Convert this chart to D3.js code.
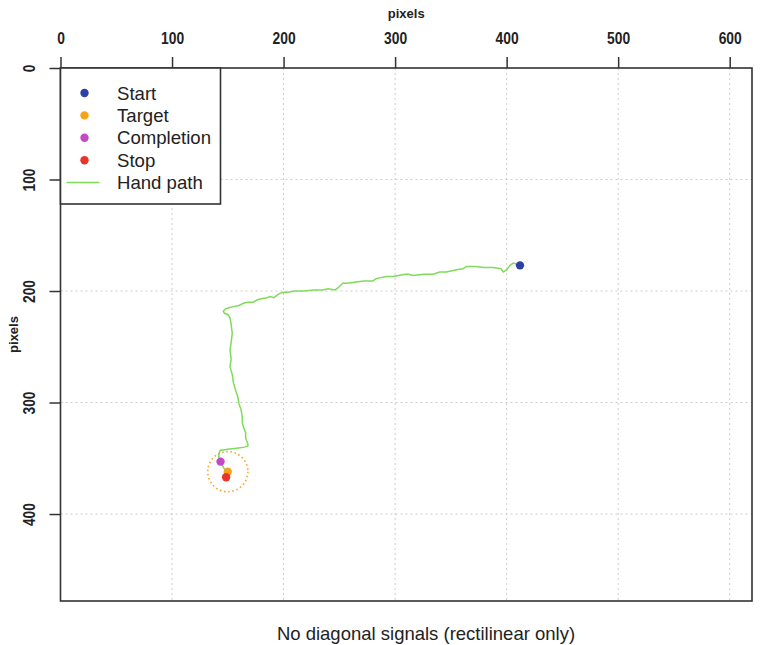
<!DOCTYPE html>
<html>
<head>
<meta charset="utf-8">
<script src="https://cdn.jsdelivr.net/npm/d3@7"></script>
<style>
  html, body { margin: 0; padding: 0; background: #fff; }
  svg { display: block; }
</style>
</head>
<body>
<svg id="chart" width="765" height="645"></svg>
<script>
// Screen extent (pixels) and axis ticks
const xDomain = [0, 620];
const yDomain = [0, 478];
const xTicks = [0, 100, 200, 300, 400, 500, 600];
const yTicks = [0, 100, 200, 300, 400];

// Hand trajectory in screen pixels (x, y), from start towards target
const pathX = [412, 406, 403, 400, 397, 395, 388, 380, 372, 364, 361, 355, 346, 340, 334, 326, 316, 312, 309, 303, 298, 292, 287, 283, 280, 272, 265, 257, 253, 251, 249, 246, 240, 235, 227, 218, 210, 204, 200, 197, 194, 191, 188, 185, 180, 176, 173, 168, 164, 160, 155, 151, 148, 146, 147, 150, 152, 153, 154, 153, 152, 153, 152, 154, 155, 157, 159, 160, 162, 163, 163, 164, 166, 166, 168, 168, 165, 158, 150, 143, 142, 142, 143, 146, 149];
const pathY = [177, 175, 177, 181, 183, 180, 179, 179, 178, 178, 180, 181, 183, 183, 185, 185, 186, 185, 185, 186, 187, 187, 188, 189, 191, 191, 192, 193, 193, 195, 197, 199, 198, 199, 199, 200, 200, 201, 201, 202, 204, 206, 205, 206, 207, 208, 210, 210, 211, 213, 214, 215, 216, 218, 220, 221, 224, 230, 238, 246, 253, 261, 268, 275, 282, 289, 295, 301, 307, 313, 318, 322, 327, 332, 337, 339, 340, 341, 342, 343, 347, 350, 353, 358, 363];

// Event markers
const eventNames = ["Start", "Target", "Completion", "Stop"];
const eventX = [412, 150, 143.5, 148.5];
const eventY = [177, 362, 353, 367];
const eventColors = ["#2b41a6", "#f7a21c", "#c44ac4", "#e8352a"];
const pathColor = "#7fdb5a";
const targetRadius = 18; // target zone radius, screen pixels

const svg = d3.select("#chart");
const margin = { left: 60.5, top: 68, right: 13, bottom: 44 };
const W = 765, H = 645;

const x = d3.scaleLinear().domain(xDomain).range([margin.left, W - margin.right]);
const y = d3.scaleLinear().domain(yDomain).range([margin.top, H - margin.bottom]);

const sansFont = "'Liberation Sans', Arial, sans-serif";
const ink = "#222";

// Dotted grid
const grid = svg.append("g").attr("stroke", "#cccccc").attr("stroke-width", 1)
  .attr("stroke-dasharray", "2,3");
xTicks.filter(d => d > 0).forEach(d => {
  grid.append("line").attr("x1", x(d)).attr("x2", x(d))
    .attr("y1", y(yDomain[0])).attr("y2", y(yDomain[1]));
});
yTicks.filter(d => d > 0).forEach(d => {
  grid.append("line").attr("x1", x(xDomain[0])).attr("x2", x(xDomain[1]))
    .attr("y1", y(d)).attr("y2", y(d));
});

// Top axis: condensed labels above outward ticks
const topAxis = svg.append("g")
  .attr("transform", `translate(0,${margin.top})`)
  .call(d3.axisTop(x).tickValues(xTicks).tickSize(11).tickPadding(0));
topAxis.select(".domain").remove();
topAxis.selectAll(".tick line").attr("stroke", "#333").attr("stroke-width", 1.5);
topAxis.selectAll(".tick text")
  .attr("font-family", sansFont).attr("font-size", 16.5).attr("font-weight", "bold")
  .attr("fill", ink).attr("y", null).attr("dy", null)
  .attr("transform", "translate(0,-24) scale(0.84,1)");

// Left axis with vertical condensed labels
const leftAxis = svg.append("g")
  .attr("transform", `translate(${margin.left},0)`)
  .call(d3.axisLeft(y).tickValues(yTicks).tickSize(11).tickPadding(0));
leftAxis.select(".domain").remove();
leftAxis.selectAll(".tick line").attr("stroke", "#333").attr("stroke-width", 1.5);
leftAxis.selectAll(".tick text")
  .attr("font-family", sansFont).attr("font-size", 16.5).attr("font-weight", "bold")
  .attr("fill", ink)
  .attr("x", 0).attr("y", 0).attr("dy", "0.35em")
  .attr("text-anchor", "middle")
  .attr("transform", "translate(-31.5,0) rotate(-90) scale(0.84,1)");

// Axis titles
svg.append("text").attr("x", (x(xDomain[0]) + x(xDomain[1])) / 2).attr("y", 18)
  .attr("text-anchor", "middle").attr("font-family", sansFont)
  .attr("font-size", 13).attr("font-weight", "bold").attr("fill", ink).text("pixels");
svg.append("text")
  .attr("transform", `translate(18,${(y(yDomain[0]) + y(yDomain[1])) / 2}) rotate(-90)`)
  .attr("text-anchor", "middle").attr("font-family", sansFont)
  .attr("font-size", 13).attr("font-weight", "bold").attr("fill", ink).text("pixels");

// Target zone
svg.append("circle")
  .attr("cx", x(eventX[1])).attr("cy", y(eventY[1]))
  .attr("r", x(targetRadius) - x(0))
  .attr("fill", "none").attr("stroke", "#f7a93a").attr("stroke-width", 1.7)
  .attr("stroke-dasharray", "1.6,2.6");

// Hand path
const line = d3.line().x(i => x(pathX[i])).y(i => y(pathY[i]));
svg.append("path").datum(d3.range(pathX.length))
  .attr("d", line).attr("fill", "none")
  .attr("stroke", pathColor).attr("stroke-width", 1.5);

// Event markers
svg.append("g").selectAll("circle").data(eventNames).join("circle")
  .attr("cx", (d, i) => x(eventX[i])).attr("cy", (d, i) => y(eventY[i]))
  .attr("r", 4.2).attr("fill", (d, i) => eventColors[i]);

// Plot frame
svg.append("rect")
  .attr("x", x(xDomain[0])).attr("y", y(yDomain[0]))
  .attr("width", x(xDomain[1]) - x(xDomain[0]))
  .attr("height", y(yDomain[1]) - y(yDomain[0]))
  .attr("fill", "none").attr("stroke", "#333").attr("stroke-width", 1.6);

// Legend
const legend = svg.append("g").attr("transform", `translate(${margin.left},${margin.top})`);
legend.append("rect").attr("width", 160).attr("height", 136)
  .attr("fill", "#fff").attr("stroke", "#333").attr("stroke-width", 1.6);
const items = eventNames.concat(["Hand path"]);
const rowY = i => 25 + i * 22.4;
items.forEach((name, i) => {
  if (i < eventNames.length) {
    legend.append("circle").attr("cx", 24).attr("cy", rowY(i)).attr("r", 4.2)
      .attr("fill", eventColors[i]);
  } else {
    legend.append("line").attr("x1", 6).attr("x2", 39)
      .attr("y1", rowY(i)).attr("y2", rowY(i))
      .attr("stroke", pathColor).attr("stroke-width", 1.5);
  }
  legend.append("text").attr("x", 56.5).attr("y", rowY(i)).attr("dy", "0.35em")
    .attr("font-family", sansFont).attr("font-size", 18.6)
    .attr("fill", ink).text(name);
});

// Caption
svg.append("text").attr("x", 426).attr("y", 640)
  .attr("text-anchor", "middle")
  .attr("font-family", sansFont).attr("font-size", 18.5)
  .attr("fill", ink).text("No diagonal signals (rectilinear only)");
</script>
</body>
</html>
